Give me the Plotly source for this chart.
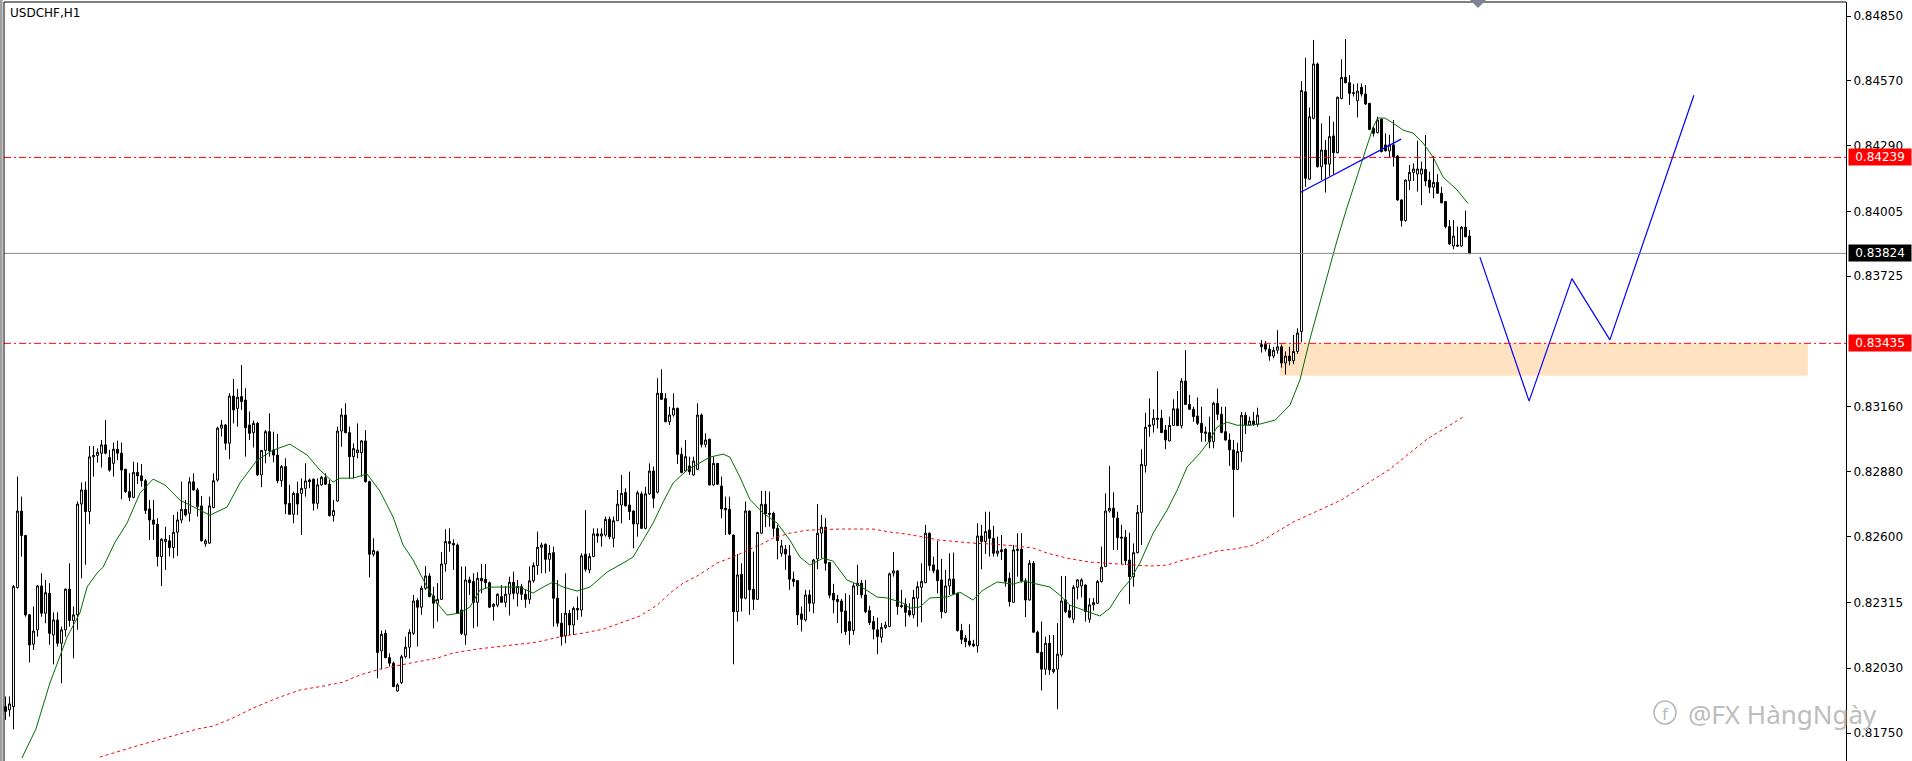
import plotly.graph_objects as go

symbol_title = "USDCHF,H1"
watermark_text = "@FX HàngNgày"

opens = [
0.81864,0.81850,0.81864,0.82379,0.82710,0.82604,0.82261,0.82134,0.82196,0.82386,
0.82268,0.82354,0.82174,0.82239,0.82138,0.82196,0.82372,0.82236,0.82261,0.82740,
0.82801,0.82707,0.82944,0.82950,0.82960,0.82996,0.82941,0.82916,0.82977,0.82960,
0.82890,0.82794,0.82769,0.82877,0.82862,0.82841,0.82719,0.82671,0.82653,0.82513,
0.82578,0.82581,0.82552,0.82618,0.82671,0.82717,0.82700,0.82836,0.82801,0.82732,
0.82568,0.82571,0.82725,0.82844,0.83068,0.83082,0.83003,0.83207,0.83154,0.83205,
0.83190,0.83082,0.83049,0.83089,0.82866,0.82972,0.83053,0.82974,0.82952,0.82841,
0.82902,0.82743,0.82696,0.82786,0.82786,0.82808,0.82844,0.82847,0.82743,0.82823,
0.82854,0.82826,0.82690,0.82753,0.83056,0.83125,0.83049,0.82945,0.82962,0.82962,
0.83013,0.82837,0.82523,0.82534,0.82105,0.82181,0.82076,0.82052,0.81932,0.81968,
0.82080,0.82121,0.82181,0.82323,0.82294,0.82376,0.82429,0.82343,0.82311,0.82328,
0.82481,0.82578,0.82570,0.82563,0.82282,0.82174,0.82412,0.82405,0.82315,0.82419,
0.82415,0.82400,0.82297,0.82303,0.82340,0.82315,0.82350,0.82402,0.82354,0.82383,
0.82350,0.82328,0.82408,0.82474,0.82553,0.82566,0.82501,0.82530,0.82333,0.82225,
0.82170,0.82268,0.82217,0.82289,0.82282,0.82523,0.82455,0.82513,0.82611,0.82602,
0.82606,0.82674,0.82592,0.82668,0.82736,0.82790,0.82736,0.82710,0.82654,0.82784,
0.82635,0.82784,0.82883,0.82791,0.83219,0.83197,0.83096,0.83125,0.83154,0.82955,
0.82883,0.82905,0.82866,0.82890,0.83125,0.82998,0.83020,0.82823,0.82916,0.82818,
0.82722,0.82717,0.82606,0.82275,0.82436,0.82333,0.82710,0.82372,0.82328,0.82614,
0.82739,0.82700,0.82700,0.82635,0.82527,0.82545,0.82516,0.82416,0.82409,0.82265,
0.82239,0.82347,0.82311,0.82503,0.82614,0.82640,0.82487,0.82354,0.82328,0.82321,
0.82278,0.82232,0.82193,0.82386,0.82398,0.82347,0.82279,0.82232,0.82196,0.82164,
0.82206,0.82210,0.82441,0.82451,0.82301,0.82307,0.82279,0.82261,0.82333,0.82380,
0.82400,0.82614,0.82477,0.82455,0.82412,0.82272,0.82386,0.82416,0.82354,0.82193,
0.82160,0.82148,0.82135,0.82127,0.82602,0.82578,0.82628,0.82592,0.82527,0.82542,
0.82545,0.82419,0.82315,0.82539,0.82545,0.82408,0.82325,0.82484,0.82186,0.82099,
0.82026,0.82138,0.82016,0.82026,0.82088,0.82325,0.82279,0.82242,0.82380,0.82386,
0.82390,0.82242,0.82304,0.82311,0.82405,0.82470,0.82710,0.82722,0.82679,0.82597,
0.82597,0.82498,0.82426,0.82530,0.82704,0.82906,0.83075,0.83082,0.83106,0.83111,
0.83060,0.83013,0.83080,0.83152,0.83079,0.83272,0.83171,0.83150,0.83121,0.83089,
0.83052,0.83049,0.83010,0.83176,0.83128,0.83053,0.83017,0.82974,0.82890,0.82967,
0.83124,0.83082,0.83099,0.83085,0.83420,0.83430,0.83410,0.83380,0.83405,0.83420,
0.83350,0.83380,0.83360,0.83400,0.83486,0.84523,0.84145,0.84408,0.84643,0.84199,
0.84271,0.84210,0.84332,0.84259,0.84494,0.84585,0.84562,0.84519,0.84484,0.84542,
0.84513,0.84473,0.84365,0.84346,0.84404,0.84293,0.84267,0.84293,0.84245,0.84055,
0.83966,0.84138,0.84174,0.84167,0.84167,0.84187,0.84141,0.84110,0.84131,0.84084,
0.84048,0.83940,0.83856,0.83860,0.83856,0.83937,0.83899]

highs = [
0.81908,0.81908,0.82390,0.82859,0.82772,0.82607,0.82265,0.82297,0.82390,0.82441,
0.82412,0.82398,0.82272,0.82272,0.82210,0.82375,0.82484,0.82297,0.82751,0.82833,
0.82837,0.82991,0.82991,0.82981,0.83017,0.83104,0.82974,0.83006,0.83014,0.83006,
0.82893,0.82873,0.82923,0.82919,0.82913,0.82848,0.82758,0.82758,0.82679,0.82592,
0.82642,0.82606,0.82693,0.82707,0.82837,0.82758,0.82856,0.82873,0.82810,0.82775,
0.82588,0.82772,0.82873,0.83075,0.83104,0.83086,0.83219,0.83281,0.83238,0.83341,
0.83241,0.83140,0.83101,0.83096,0.82974,0.83060,0.83132,0.83053,0.83043,0.82909,
0.82938,0.82823,0.82794,0.82837,0.82851,0.82916,0.82851,0.82851,0.82851,0.82862,
0.82873,0.82845,0.82758,0.83075,0.83154,0.83176,0.83075,0.83003,0.83089,0.83017,
0.83060,0.82841,0.82592,0.82539,0.82193,0.82196,0.82095,0.82059,0.81965,0.82088,
0.82167,0.82199,0.82347,0.82333,0.82387,0.82472,0.82441,0.82383,0.82398,0.82532,
0.82631,0.82635,0.82588,0.82570,0.82470,0.82470,0.82426,0.82441,0.82445,0.82481,
0.82481,0.82405,0.82311,0.82354,0.82390,0.82386,0.82426,0.82448,0.82412,0.82395,
0.82369,0.82470,0.82488,0.82621,0.82573,0.82570,0.82563,0.82556,0.82412,0.82268,
0.82441,0.82282,0.82297,0.82340,0.82527,0.82714,0.82527,0.82635,0.82635,0.82635,
0.82686,0.82686,0.82686,0.82801,0.82866,0.82808,0.82880,0.82713,0.82798,0.82794,
0.82815,0.82916,0.82902,0.83284,0.83323,0.83219,0.83161,0.83219,0.83157,0.82984,
0.83017,0.82945,0.82945,0.83176,0.83132,0.83046,0.83023,0.82945,0.82916,0.82859,
0.82772,0.82772,0.82609,0.82524,0.82484,0.82751,0.82713,0.82534,0.82620,0.82797,
0.82797,0.82794,0.82707,0.82650,0.82585,0.82563,0.82563,0.82448,0.82410,0.82297,
0.82369,0.82369,0.82503,0.82740,0.82693,0.82679,0.82488,0.82395,0.82347,0.82330,
0.82354,0.82347,0.82398,0.82477,0.82412,0.82412,0.82300,0.82256,0.82249,0.82225,
0.82232,0.82444,0.82532,0.82455,0.82369,0.82333,0.82311,0.82369,0.82405,0.82484,
0.82650,0.82617,0.82513,0.82582,0.82503,0.82455,0.82527,0.82530,0.82357,0.82222,
0.82174,0.82220,0.82153,0.82657,0.82650,0.82707,0.82707,0.82646,0.82599,0.82606,
0.82549,0.82444,0.82563,0.82614,0.82614,0.82419,0.82498,0.82494,0.82193,0.82232,
0.82167,0.82174,0.82174,0.82225,0.82429,0.82429,0.82304,0.82390,0.82415,0.82419,
0.82393,0.82333,0.82333,0.82412,0.82556,0.82786,0.82905,0.82791,0.82707,0.82650,
0.82628,0.82616,0.82570,0.82736,0.82977,0.83135,0.83197,0.83150,0.83315,0.83147,
0.83082,0.83118,0.83193,0.83229,0.83284,0.83406,0.83212,0.83161,0.83201,0.83161,
0.83075,0.83118,0.83183,0.83240,0.83161,0.83161,0.83046,0.83017,0.83005,0.83139,
0.83137,0.83118,0.83139,0.83157,0.83449,0.83445,0.83430,0.83420,0.83492,0.83430,
0.83400,0.83420,0.83471,0.83500,0.84569,0.84670,0.84455,0.84747,0.84649,0.84386,
0.84314,0.84418,0.84393,0.84502,0.84663,0.84751,0.84595,0.84556,0.84559,0.84559,
0.84552,0.84473,0.84372,0.84415,0.84408,0.84343,0.84336,0.84401,0.84249,0.84058,
0.84144,0.84206,0.84213,0.84311,0.84221,0.84336,0.84177,0.84245,0.84167,0.84112,
0.84050,0.83968,0.83968,0.83940,0.83942,0.84009,0.83925]

lows = [
0.81807,0.81821,0.81766,0.82375,0.82513,0.82253,0.82055,0.82109,0.82167,0.82253,
0.82225,0.82131,0.82047,0.82124,0.81965,0.82167,0.82210,0.82073,0.82196,0.82419,
0.82477,0.82653,0.82859,0.82919,0.82898,0.82955,0.82880,0.82859,0.82930,0.82761,
0.82789,0.82753,0.82765,0.82827,0.82815,0.82697,0.82585,0.82585,0.82470,0.82386,
0.82455,0.82513,0.82506,0.82516,0.82657,0.82686,0.82664,0.82798,0.82686,0.82578,
0.82556,0.82568,0.82722,0.82837,0.83032,0.82974,0.82934,0.83089,0.83075,0.83147,
0.82945,0.83017,0.82985,0.82862,0.82813,0.82916,0.82945,0.82921,0.82830,0.82815,
0.82697,0.82693,0.82657,0.82693,0.82606,0.82772,0.82808,0.82712,0.82719,0.82820,
0.82823,0.82686,0.82664,0.82751,0.82988,0.83046,0.82851,0.82851,0.82938,0.82859,
0.82833,0.82423,0.82513,0.81987,0.82026,0.82073,0.82037,0.81948,0.81929,0.81962,
0.82073,0.82073,0.82174,0.82124,0.82261,0.82369,0.82337,0.82203,0.82232,0.82325,
0.82448,0.82534,0.82455,0.82265,0.82174,0.82131,0.82347,0.82203,0.82210,0.82354,
0.82376,0.82290,0.82236,0.82294,0.82314,0.82294,0.82258,0.82328,0.82297,0.82325,
0.82292,0.82308,0.82400,0.82434,0.82441,0.82441,0.82448,0.82210,0.82210,0.82128,
0.82138,0.82174,0.82174,0.82239,0.82253,0.82448,0.82441,0.82510,0.82573,0.82556,
0.82599,0.82588,0.82553,0.82667,0.82657,0.82729,0.82671,0.82549,0.82599,0.82632,
0.82631,0.82779,0.82722,0.82786,0.83190,0.83094,0.83082,0.83118,0.82913,0.82873,
0.82880,0.82866,0.82863,0.82887,0.82985,0.82985,0.82820,0.82820,0.82823,0.82679,
0.82606,0.82606,0.82047,0.82232,0.82275,0.82328,0.82261,0.82282,0.82325,0.82612,
0.82640,0.82642,0.82599,0.82501,0.82513,0.82455,0.82369,0.82383,0.82217,0.82189,
0.82232,0.82275,0.82268,0.82458,0.82506,0.82452,0.82333,0.82268,0.82225,0.82181,
0.82174,0.82131,0.82174,0.82347,0.82333,0.82268,0.82217,0.82155,0.82091,0.82141,
0.82199,0.82210,0.82426,0.82261,0.82290,0.82210,0.82253,0.82246,0.82210,0.82229,
0.82398,0.82452,0.82441,0.82354,0.82246,0.82268,0.82347,0.82347,0.82189,0.82135,
0.82121,0.82124,0.82121,0.82098,0.82458,0.82524,0.82513,0.82513,0.82513,0.82498,
0.82383,0.82297,0.82314,0.82426,0.82400,0.82251,0.82323,0.82184,0.82095,0.81934,
0.82001,0.82001,0.82008,0.81853,0.82080,0.82268,0.82246,0.82225,0.82328,0.82337,
0.82232,0.82227,0.82279,0.82308,0.82400,0.82467,0.82703,0.82541,0.82541,0.82481,
0.82477,0.82307,0.82383,0.82527,0.82563,0.82876,0.83031,0.83049,0.83067,0.83047,
0.82977,0.83010,0.83078,0.83078,0.83067,0.83168,0.83147,0.83096,0.83082,0.83010,
0.83010,0.82981,0.82981,0.83103,0.83046,0.83014,0.82905,0.82683,0.82887,0.82923,
0.83043,0.83080,0.83078,0.83075,0.83395,0.83400,0.83360,0.83370,0.83390,0.83330,
0.83300,0.83340,0.83345,0.83390,0.83440,0.84112,0.84141,0.84404,0.84195,0.84141,
0.84087,0.84159,0.84167,0.84257,0.84490,0.84559,0.84466,0.84502,0.84412,0.84502,
0.84466,0.84357,0.84329,0.84343,0.84261,0.84264,0.84238,0.84199,0.84052,0.83940,
0.83961,0.84098,0.84137,0.84091,0.84033,0.84115,0.84084,0.84062,0.84081,0.84040,
0.83932,0.83860,0.83842,0.83853,0.83853,0.83893,0.83820]

closes = [
0.81843,0.81876,0.82383,0.82710,0.82604,0.82261,0.82131,0.82191,0.82386,0.82268,
0.82357,0.82181,0.82239,0.82138,0.82196,0.82372,0.82236,0.82261,0.82740,0.82801,
0.82707,0.82944,0.82950,0.82964,0.82996,0.82960,0.82887,0.82977,0.82960,0.82887,
0.82794,0.82769,0.82877,0.82862,0.82841,0.82712,0.82671,0.82653,0.82513,0.82588,
0.82588,0.82552,0.82618,0.82671,0.82717,0.82693,0.82836,0.82801,0.82729,0.82581,
0.82581,0.82732,0.82841,0.83068,0.83082,0.83003,0.83207,0.83147,0.83202,0.83183,
0.83070,0.83046,0.83089,0.82866,0.82972,0.83053,0.82970,0.82952,0.82841,0.82902,
0.82740,0.82696,0.82786,0.82740,0.82808,0.82840,0.82837,0.82743,0.82823,0.82856,
0.82826,0.82690,0.82712,0.83056,0.83125,0.83049,0.82945,0.82980,0.82974,0.83013,
0.82837,0.82523,0.82539,0.82098,0.82177,0.82076,0.82052,0.81951,0.81958,0.82080,
0.82121,0.82186,0.82321,0.82294,0.82376,0.82429,0.82340,0.82311,0.82328,0.82481,
0.82578,0.82570,0.82563,0.82268,0.82181,0.82412,0.82400,0.82315,0.82419,0.82408,
0.82400,0.82294,0.82307,0.82350,0.82315,0.82350,0.82402,0.82354,0.82383,0.82350,
0.82328,0.82408,0.82474,0.82553,0.82563,0.82501,0.82527,0.82333,0.82225,0.82167,
0.82268,0.82217,0.82289,0.82282,0.82516,0.82458,0.82513,0.82611,0.82602,0.82611,
0.82674,0.82599,0.82668,0.82740,0.82786,0.82733,0.82707,0.82654,0.82789,0.82635,
0.82784,0.82883,0.82765,0.83219,0.83193,0.83096,0.83125,0.83154,0.82955,0.82877,
0.82945,0.82880,0.82926,0.83125,0.82998,0.83017,0.82823,0.82916,0.82826,0.82719,
0.82715,0.82611,0.82275,0.82434,0.82333,0.82710,0.82369,0.82328,0.82617,0.82739,
0.82697,0.82696,0.82635,0.82582,0.82559,0.82524,0.82415,0.82405,0.82261,0.82242,
0.82347,0.82311,0.82498,0.82614,0.82640,0.82484,0.82346,0.82325,0.82318,0.82275,
0.82189,0.82193,0.82386,0.82398,0.82347,0.82275,0.82228,0.82199,0.82167,0.82206,
0.82217,0.82438,0.82451,0.82297,0.82297,0.82272,0.82261,0.82336,0.82383,0.82405,
0.82614,0.82474,0.82452,0.82409,0.82275,0.82386,0.82416,0.82351,0.82193,0.82155,
0.82145,0.82131,0.82127,0.82602,0.82578,0.82621,0.82592,0.82527,0.82537,0.82534,
0.82405,0.82318,0.82542,0.82545,0.82408,0.82325,0.82484,0.82186,0.82098,0.82026,
0.82138,0.82023,0.82026,0.82091,0.82321,0.82275,0.82251,0.82380,0.82412,0.82412,
0.82275,0.82304,0.82314,0.82405,0.82467,0.82710,0.82722,0.82683,0.82595,0.82593,
0.82495,0.82426,0.82530,0.82704,0.82912,0.83072,0.83082,0.83111,0.83111,0.83049,
0.83017,0.83080,0.83152,0.83079,0.83272,0.83171,0.83150,0.83118,0.83089,0.83049,
0.83046,0.83010,0.83176,0.83128,0.83050,0.83017,0.82974,0.82890,0.82967,0.83124,
0.83082,0.83099,0.83085,0.83124,0.83430,0.83410,0.83380,0.83405,0.83420,0.83350,
0.83380,0.83360,0.83400,0.83480,0.84528,0.84149,0.84415,0.84643,0.84199,0.84271,
0.84210,0.84329,0.84259,0.84499,0.84585,0.84562,0.84516,0.84516,0.84526,0.84513,
0.84470,0.84360,0.84343,0.84401,0.84264,0.84268,0.84293,0.84242,0.84055,0.83966,
0.84141,0.84174,0.84189,0.84189,0.84189,0.84137,0.84110,0.84131,0.84084,0.84043,
0.83940,0.83865,0.83899,0.83856,0.83937,0.83896,0.83824]

bar_index = list(range(len(opens)))

ma_fast_x = [4.1,7.6,11.1,15.4,18.6,20.4,22.9,24.4,27.4,30.4,33.6,36.9,39.9,43.6,48.6,51.1,55.4,58.6,62.9,66.9,
             71.1,75.4,78.6,81.9,83.6,86.9,90.4,93.6,96.9,99.4,101.9,105.4,107.9,110.4,113.6,116.1,118.6,121.1,128.6,131.9,
             134.4,136.9,139.4,142.9,146.1,150.4,154.4,156.9,159.4,161.9,164.4,166.9,170.4,173.6,176.1,179.4,181.1,183.6,186.1,189.4,
             192.9,196.1,198.6,201.1,204.4,206.9,210.4,212.9,217.9,220.4,224.4,226.1,228.6,231.1,235.4,238.6,241.9,244.4,247.9,251.9,
             254.4,256.9,261.1,263.6,266.1,269.4,273.6,276.1,278.6,281.1,283.6,286.9,290.4,292.9,295.4,298.6,301.1,302.9,305.4,307.9,
             311.1,313.6,317.4,321.1,323.6,326.1,327.9,330.4,332.9,335.4,337.9,340.4,341.9,343.1,344.9,346.9,349.4,351.9,354.4,356.9,
             359.4,362.9,365.6]
ma_fast_y = [0.81642,0.81767,0.81966,0.82165,0.82269,0.82381,0.82442,0.82467,0.82576,0.82658,0.82787,0.82848,0.82822,0.82757,0.82714,0.82692,0.82727,0.82831,0.82930,0.82973,
             0.82999,0.82952,0.82887,0.82835,0.82852,0.82852,0.82870,0.82796,0.82684,0.82563,0.82498,0.82381,0.82312,0.82260,0.82269,0.82295,0.82368,0.82381,0.82381,0.82355,
             0.82381,0.82403,0.82381,0.82364,0.82381,0.82446,0.82485,0.82511,0.82584,0.82658,0.82749,0.82831,0.82887,0.82917,0.82943,0.82956,0.82943,0.82857,0.82760,0.82701,
             0.82658,0.82584,0.82511,0.82476,0.82506,0.82493,0.82411,0.82394,0.82338,0.82334,0.82312,0.82290,0.82295,0.82334,0.82338,0.82359,0.82325,0.82368,0.82403,0.82394,
             0.82407,0.82398,0.82381,0.82346,0.82303,0.82282,0.82256,0.82290,0.82359,0.82411,0.82485,0.82614,0.82714,0.82800,0.82900,0.82960,0.83017,0.83073,0.83094,0.83081,
             0.83081,0.83086,0.83103,0.83168,0.83276,0.83453,0.83566,0.83721,0.83881,0.84024,0.84154,0.84284,0.84370,0.84409,0.84409,0.84387,0.84357,0.84344,0.84301,0.84240,
             0.84154,0.84098,0.84041]

# slow moving average (red dotted)
ma_slow_x = [23.6,33.6,47.9,51.9,56.9,61.9,67.9,73.6,79.4,84.4,88.6,93.6,101.1,107.9,111.9,117.9,124.4,132.9,139.4,144.4,
             149.4,154.4,158.6,162.9,166.1,169.4,172.9,177.9,182.9,186.1,188.6,191.9,196.1,200.4,208.6,216.9,221.1,225.4,230.4,233.6,
             241.9,246.9,252.9,256.9,260.4,265.4,271.1,275.4,281.9,286.1,290.4,294.4,298.6,302.9,306.9,311.1,313.6,321.9,333.9,346.1,
             355.4,364.4]
ma_slow_y = [0.81646,0.81698,0.81767,0.81780,0.81815,0.81858,0.81901,0.81936,0.81953,0.81970,0.82001,0.82026,0.82052,0.82074,0.82096,0.82113,0.82126,0.82143,0.82169,0.82182,
             0.82199,0.82230,0.82256,0.82303,0.82355,0.82398,0.82429,0.82485,0.82519,0.82545,0.82563,0.82593,0.82614,0.82627,0.82632,0.82632,0.82619,0.82610,0.82593,0.82584,
             0.82571,0.82567,0.82558,0.82550,0.82528,0.82506,0.82489,0.82485,0.82476,0.82472,0.82476,0.82498,0.82515,0.82537,0.82545,0.82558,0.82576,0.82662,0.82757,0.82891,
             0.83021,0.83116]

# drawn objects
trend_x = [323.8, 348.9]
trend_y = [0.84088, 0.84318]
projection_x = [368.6, 380.9, 391.6, 401.1, 422.1]
projection_y = [0.83808, 0.83185, 0.83715, 0.83450, 0.84508]

resistance_level = 0.84239
support_level = 0.83435
bid_level = 0.83824
zone_x = [318.6, 450.6]
zone_y = [0.83295, 0.83435]

tick_vals = [0.84850, 0.84570, 0.84290, 0.84005, 0.83725, 0.83160, 0.82880, 0.82600, 0.82315, 0.82030, 0.81750]
tick_text = ["0.84850", "0.84570", "0.84290", "0.84005", "0.83725", "0.83160", "0.82880", "0.82600", "0.82315", "0.82030", "0.81750"]

W, H = 1912, 761
ML, MR, MT, MB = 4, 66, 2, 0
PW = W - ML - MR
PH = H - MT - MB


def px_x(p):
    return (p - ML) / PW


def px_y(p):
    return (H - MB - p) / PH


FONT = "DejaVu Sans"

fig = go.Figure()

fig.add_trace(go.Candlestick(
    x=bar_index, open=opens, high=highs, low=lows, close=closes,
    increasing=dict(line=dict(color="black", width=1), fillcolor="white"),
    decreasing=dict(line=dict(color="black", width=1), fillcolor="black"),
    whiskerwidth=0, hoverinfo="skip", showlegend=False))

fig.add_trace(go.Scatter(x=ma_slow_x, y=ma_slow_y, mode="lines",
                         line=dict(color="#FF0000", width=1, dash="3px,3px"),
                         hoverinfo="skip", showlegend=False))
fig.add_trace(go.Scatter(x=ma_fast_x, y=ma_fast_y, mode="lines",
                         line=dict(color="#007000", width=1),
                         hoverinfo="skip", showlegend=False))
fig.add_trace(go.Scatter(x=trend_x, y=trend_y, mode="lines",
                         line=dict(color="#0000FF", width=1.2),
                         hoverinfo="skip", showlegend=False))
fig.add_trace(go.Scatter(x=projection_x, y=projection_y, mode="lines",
                         line=dict(color="#0000FF", width=1.2),
                         hoverinfo="skip", showlegend=False))

shapes = [
    dict(type="rect", xref="x", yref="y", x0=zone_x[0], x1=zone_x[1], y0=zone_y[0], y1=zone_y[1],
         fillcolor="#FFE2C2", line=dict(width=0), layer="below"),
    dict(type="line", xref="paper", yref="y", x0=0, x1=1, y0=resistance_level, y1=resistance_level,
         line=dict(color="#FF0000", width=1, dash="7px,3px,2px,3px")),
    dict(type="line", xref="paper", yref="y", x0=0, x1=1, y0=support_level, y1=support_level,
         line=dict(color="#FF0000", width=1, dash="7px,3px,2px,3px")),
    dict(type="line", xref="paper", yref="y", x0=0, x1=1, y0=bid_level, y1=bid_level,
         line=dict(color="#80858F", width=1)),
    # frame
    dict(type="line", xref="paper", yref="paper", x0=0, x1=0, y0=0, y1=1, line=dict(color="black", width=1)),
    dict(type="line", xref="paper", yref="paper", x0=0, x1=1, y0=1, y1=1, line=dict(color="black", width=1)),
    dict(type="rect", xref="paper", yref="paper", x0=px_x(0), x1=px_x(2.6), y0=0, y1=px_y(0),
         fillcolor="#A0A0A0", line=dict(width=0)),
    # chart-shift marker
    dict(type="path", xref="paper", yref="paper",
         path=f"M {px_x(1470)} {px_y(0)} L {px_x(1486)} {px_y(0)} L {px_x(1478)} {px_y(8)} Z",
         fillcolor="#7F8590", line=dict(width=0)),
    # watermark icon
    dict(type="circle", xref="paper", yref="paper", x0=px_x(1654), x1=px_x(1676), y0=px_y(724), y1=px_y(701),
         line=dict(color="#B8B8B8", width=1.5)),
]

annotations = [
    dict(xref="paper", yref="paper", x=px_x(8), y=px_y(4), xanchor="left", yanchor="top",
         text=symbol_title, showarrow=False, font=dict(family=FONT, size=12, color="black")),
    dict(xref="paper", yref="paper", x=px_x(1686), y=px_y(714), xanchor="left", yanchor="middle",
         text=watermark_text, showarrow=False, font=dict(family="Noto Sans", size=26, color="#BDBDBD")),
    dict(xref="paper", yref="paper", x=px_x(1665), y=px_y(713), xanchor="center", yanchor="middle",
         text="f", showarrow=False, font=dict(family="Noto Sans", size=17, color="#B8B8B8")),
]
for level, bg in [(resistance_level, "#FF0000"), (bid_level, "#000000"), (support_level, "#FF0000")]:
    annotations.append(dict(xref="paper", yref="y", x=px_x(1848), y=level, xanchor="left", yanchor="middle",
                            text=f"{level:.5f}", showarrow=False, bgcolor=bg, width=60, height=14,
                            borderpad=1, align="center",
                            font=dict(family=FONT, size=12, color="white")))

fig.update_layout(
    width=W, height=H,
    margin=dict(l=ML, r=MR, t=MT, b=MB, pad=0),
    paper_bgcolor="white", plot_bgcolor="white",
    hovermode=False, showlegend=False,
    shapes=shapes, annotations=annotations,
    xaxis=dict(range=[(ML - 5.5) / 4, (W - MR - 5.5) / 4], showticklabels=False, showgrid=False,
               zeroline=False, showline=False, ticks="", rangeslider=dict(visible=False), fixedrange=True),
    yaxis=dict(range=[0.81629, 0.84911], side="right", tickmode="array", tickvals=tick_vals, ticktext=tick_text,
               showgrid=False, zeroline=False, showline=True, linecolor="black", linewidth=1,
               ticks="outside", ticklen=4, tickcolor="black", tickwidth=1,
               tickfont=dict(family=FONT, size=12, color="black"), fixedrange=True),
)

page_css = "document.body.style.margin='0';document.body.style.padding='0';document.body.style.overflow='hidden';"
fig.write_html("out.html", config={"displayModeBar": False}, post_script=page_css)
